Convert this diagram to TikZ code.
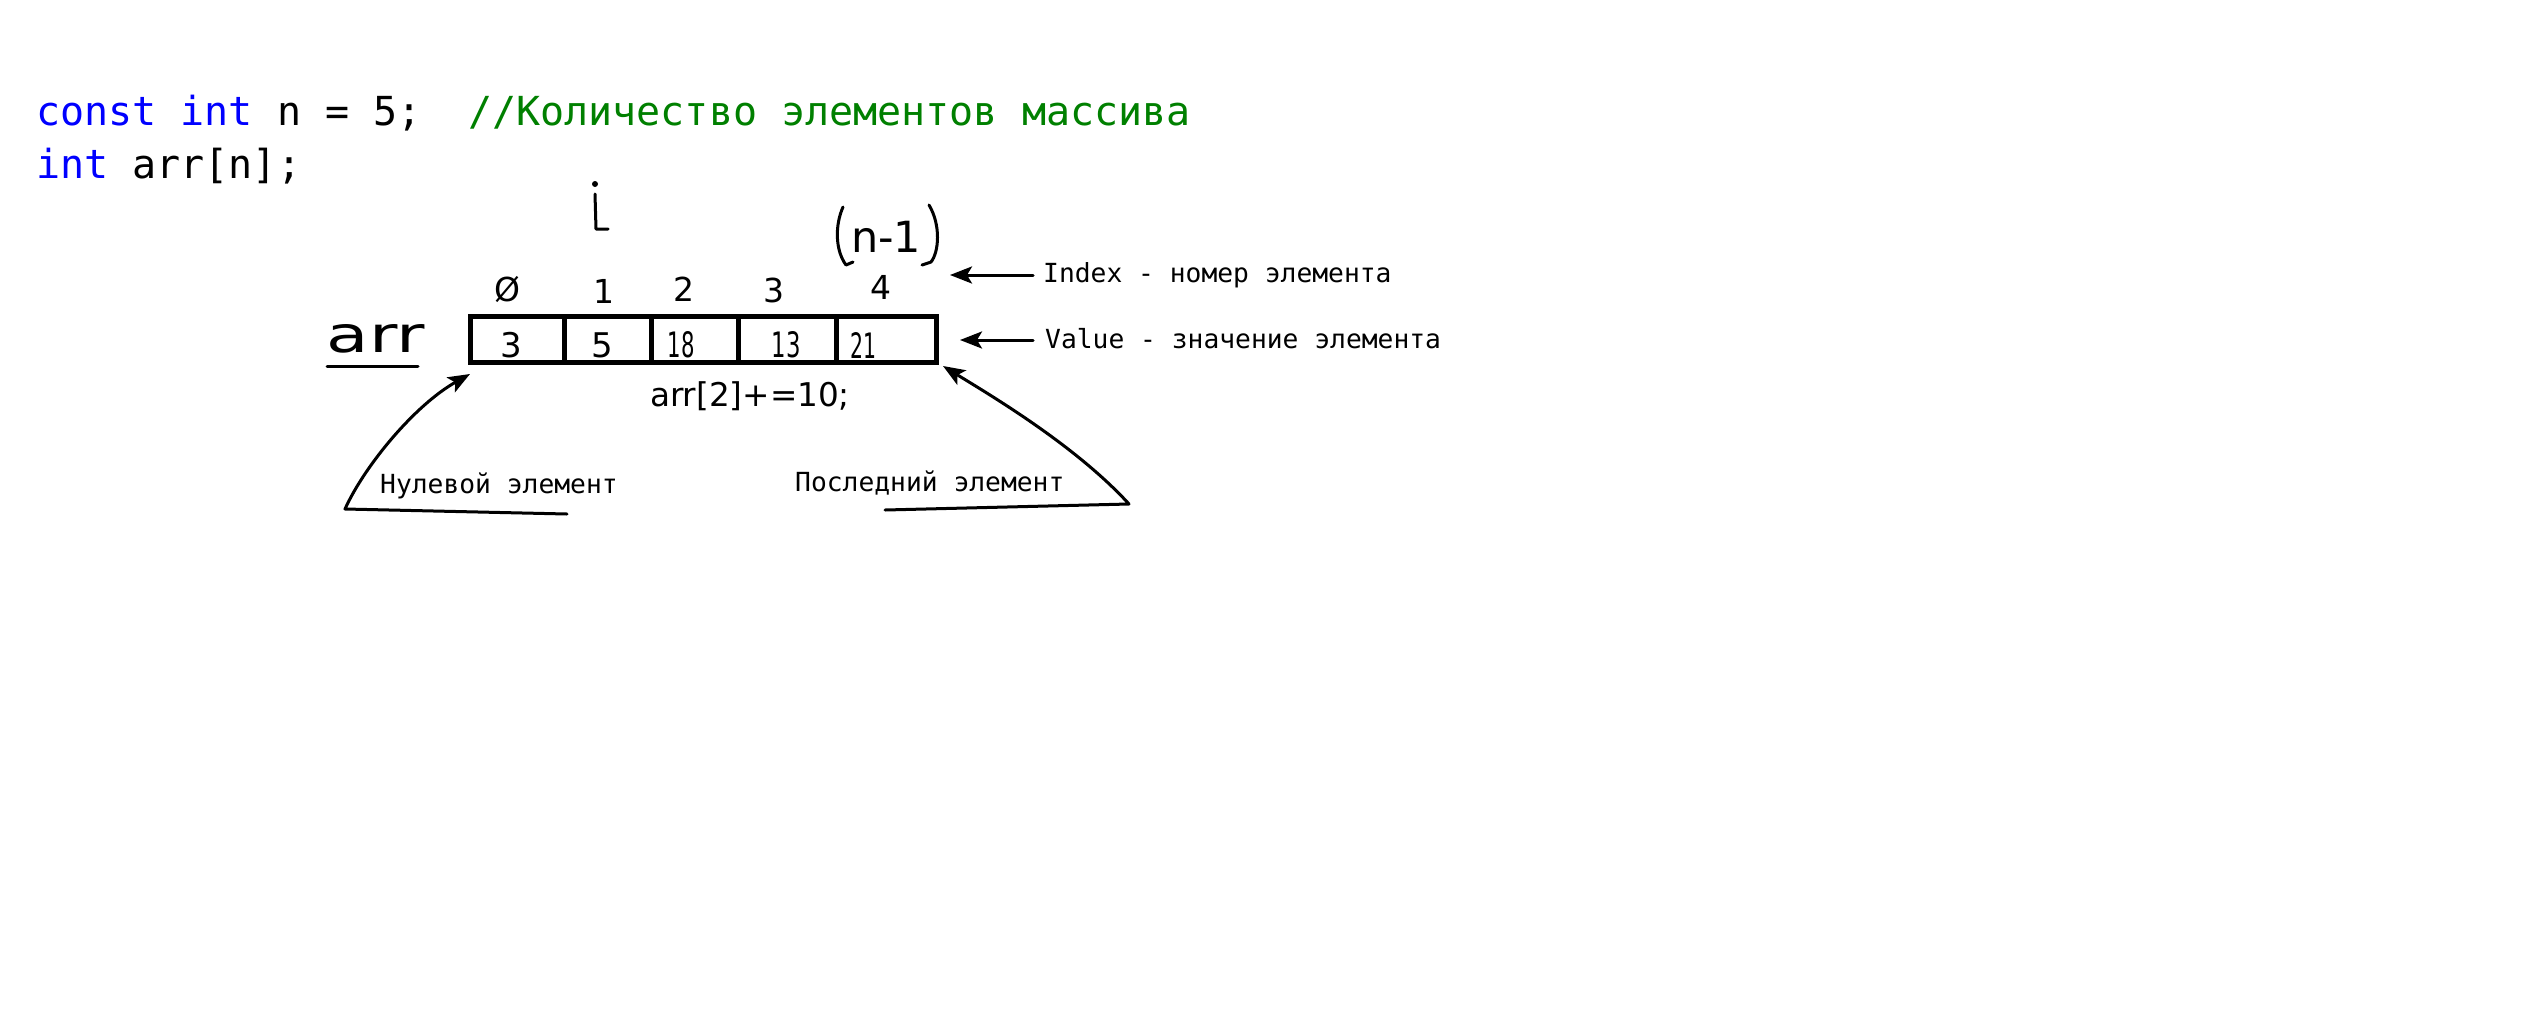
\documentclass[tikz,border=0pt]{standalone}
\usepackage{fontspec}
\setmainfont{DejaVu Sans}
\newfontfamily\codefont{DejaVu Sans Mono}
\newfontfamily\handfont{DejaVu Sans}
\usetikzlibrary{arrows.meta}
\definecolor{kwblue}{RGB}{0,0,255}
\definecolor{cmtgreen}{RGB}{0,128,0}
\tikzset{
  code/.style={font=\codefont\fontsize{40}{48}\selectfont, anchor=base west, inner sep=0pt},
  lbl/.style={font=\codefont\fontsize{26.3}{32}\selectfont, anchor=base west, inner sep=0pt},
  cell/.style={draw, line width=5pt, minimum height=46pt, inner sep=0pt, anchor=west},
  num/.style={font=\handfont\fontsize{34}{40}\selectfont, inner sep=0pt},
  idxnum/.style={font=\handfont\fontsize{33}{40}\selectfont, inner sep=0pt},
  hand/.style={line width=3pt, line cap=round, line join=round},
  harr/.style={hand, -{Stealth[length=22pt,width=17pt,inset=5pt]}}
}
\begin{document}
\begin{tikzpicture}[x=1pt,y=-1pt]
\fill[white] (0,0) rectangle (2524,1026);
\useasboundingbox (0,0) rectangle (2524,1026);

% code lines
\node[code] (l1a) at (36,125) {{\color{kwblue}const int} n = 5;};
\node[code] (l1b) at (468,125) {{\color{cmtgreen}//Количество элементов массива}};
\node[code] (l2) at (36,178) {{\color{kwblue}int} arr[n];};

% array cells
\node[cell, minimum width=94.5pt] (c0) at (467.5,339.5) {};
\node[cell, minimum width=87pt] (c1) at (562,339.5) {};
\node[cell, minimum width=87pt] (c2) at (649,339.5) {};
\node[cell, minimum width=98pt] (c3) at (736,339.5) {};
\node[cell, minimum width=99.5pt] (c4) at (834,339.5) {};

% values
\node[num] (v0) at (511,345) {3};
\node[num] (v1) at (602,345) {5};
\node[num] (v2) at (681,345) {\resizebox{27pt}{26pt}{\handfont 18}};
\node[num] (v3) at (786,345) {\resizebox{29pt}{26pt}{\handfont 13}};
\node[num] (v4) at (863,345) {\resizebox{26pt}{26pt}{\handfont 21}};

% indices
\node[idxnum] (i0) at (507,289) {Ø};
\node[idxnum] (i1) at (604,291) {1};
\node[idxnum] (i2) at (684,289) {2};
\node[idxnum] (i3) at (774,290) {3};
\node[idxnum] (i4) at (881,287) {4};

% i
\fill (595,184) circle (3pt);
\draw[hand] (595,194) -- (596,229) -- (608,229);

% (n-1)
\node[inner sep=0pt] (nm1) at (886,237) {\resizebox{70pt}{!}{\handfont n-1}};
\draw[hand] (843,207) .. controls (835,225) and (835,250) .. (846,265) -- (853,262);
\draw[hand] (929,205) .. controls (941,225) and (939,252) .. (931,262) -- (922,265);

% arr label
\node[inner sep=0pt] (arrlbl) at (376,339) {\resizebox{98pt}{28pt}{\handfont arr}};
\coordinate (ulA) at (327,366);
\coordinate (ulB) at (418,366);
\draw[hand] (ulA) -- (ulB);

% arr[2]+=10;
\node[inner sep=0pt] (stmt) at (750,396) {\resizebox{200pt}{!}{\handfont arr[2]+=10;}};

% labels and arrows
\node[lbl] (idx) at (1043,282) {Index - номер элемента};
\node[lbl] (val) at (1045,348) {Value - значение элемента};
\coordinate (idxstart) at (1033,275);
\coordinate (idxtip) at (950,275);
\coordinate (valstart) at (1033,340);
\coordinate (valtip) at (960,340);
\draw[harr] (idxstart) -- (idxtip);
\draw[harr] (valstart) -- (valtip);

\node[lbl] (zero) at (380,493) {Нулевой элемент};
\node[lbl] (last) at (795,491) {Последний элемент};
\coordinate (u0r) at (567,514);
\coordinate (u0l) at (345,509);
\coordinate (tip0) at (470,374);
\draw[harr] (u0r) -- (u0l) .. controls (365,465) and (415,405) .. (tip0);
\coordinate (u1l) at (885,510);
\coordinate (u1r) at (1129,504);
\coordinate (tip1) at (943,366);
\draw[harr] (u1l) -- (u1r) .. controls (1075,445) and (990,395) .. (tip1);
\end{tikzpicture}
\end{document}
